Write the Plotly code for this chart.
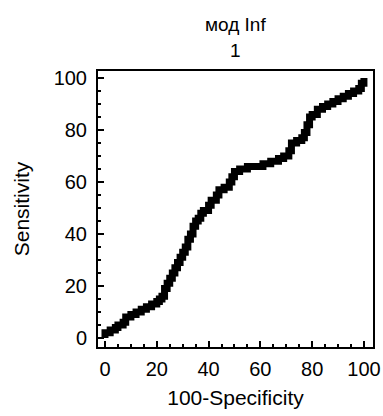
import plotly.graph_objects as go

# ROC curve data (step points)
fpr = [0, 0, 2, 4, 5, 7, 8, 10, 12, 14, 16, 18, 20, 21, 22, 23, 24, 25, 26, 27, 28,
       29, 30, 31, 32, 33, 34, 35, 36, 37, 38, 40, 41, 43, 44, 46, 48, 49, 50, 52,
       55, 58, 61, 64, 67, 69, 71, 72, 74, 76, 77, 78, 79, 80, 82, 84, 86, 88, 90,
       92, 94, 96, 98, 99, 100]
tpr = [0, 2, 3, 4, 5, 6, 8, 9, 10, 11, 12, 13, 14, 15, 16, 19, 21, 23, 25, 27, 29,
       31, 33, 35, 38, 40, 43, 45, 46, 48, 49, 51, 53, 55, 57, 58, 60, 62, 64, 65,
       66, 66, 67, 68, 69, 70, 72, 75, 76, 77, 79, 82, 85, 86, 88, 89, 90, 91, 92,
       93, 94, 95, 96, 98, 100]

title_line1 = "мод Inf"
title_line2 = "1"
x_title = "100-Specificity"
y_title = "Sensitivity"
tick_vals = [0, 20, 40, 60, 80, 100]

FONT = "Liberation Sans, Arial, sans-serif"

fig = go.Figure()
fig.add_trace(go.Scatter(x=fpr, y=tpr, mode="lines", line_shape="hv",
                         line=dict(color="black", width=7), showlegend=False,
                         hoverinfo="skip"))

axis_common = dict(
    showgrid=False, zeroline=False, showline=True, linecolor="black", linewidth=2,
    mirror=True, ticks="inside", ticklen=6, tickwidth=2, tickcolor="black",
    tickvals=tick_vals, tickfont=dict(family=FONT, size=20, color="black"),
    minor=dict(dtick=5, ticks="inside", ticklen=3, tickwidth=1.5, tickcolor="black"),
    automargin=False,
)
fig.update_xaxes(range=[-2.7, 103.5], ticklabelstandoff=3,
                 title=dict(text=x_title, font=dict(family=FONT, size=21, color="black"), standoff=11),
                 **axis_common)
fig.update_yaxes(range=[-3.5, 102.7], ticklabelstandoff=5,
                 title=dict(text=y_title, font=dict(family=FONT, size=21, color="black"), standoff=18),
                 **axis_common)

fig.add_annotation(text=title_line1, xref="paper", yref="paper", x=0.5, y=1.1667,
                   xanchor="center", yanchor="middle",
                   showarrow=False, font=dict(family=FONT, size=19, color="black"))
fig.add_annotation(text=title_line2, xref="paper", yref="paper", x=0.5, y=1.076,
                   xanchor="center", yanchor="middle",
                   showarrow=False, font=dict(family=FONT, size=19, color="black"))

fig.update_layout(width=383, height=416, margin=dict(l=98, r=10, t=71, b=69, autoexpand=False),
                  plot_bgcolor="white", paper_bgcolor="white")
fig.write_html("out.html", config={"displayModeBar": False},
               post_script="document.body.style.margin='0';")
